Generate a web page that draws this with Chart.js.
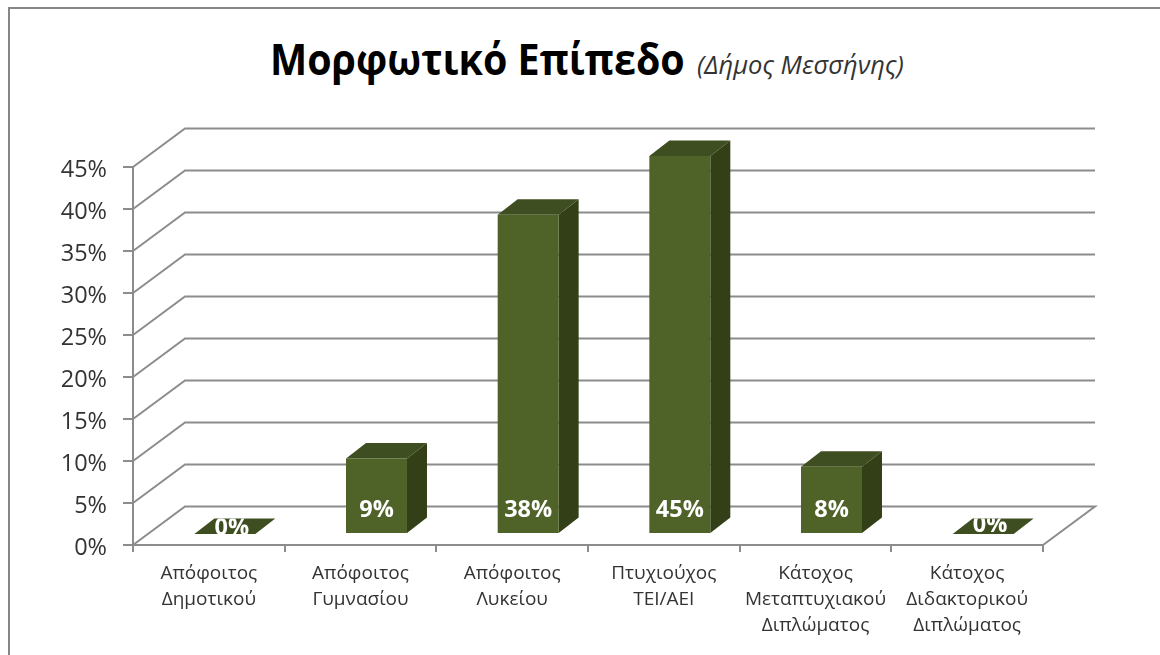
<!DOCTYPE html>
<html>
<head>
<meta charset="utf-8">
<script src="https://cdn.jsdelivr.net/npm/chart.js@4"></script>
<style>
html, body { margin: 0; padding: 0; background: #fff; overflow: hidden; }
#wrap { position: relative; width: 1160px; height: 655px; }
#frame { position: absolute; left: 8px; top: 7px; width: 1160px; height: 660px; border: 2px solid #868686; box-sizing: border-box; }
#title { position: absolute; left: 270px; top: 29px; white-space: nowrap; color: #000; font: bold 43px "Open Sans"; transform: scaleX(0.917); transform-origin: left top; }
#subtitle { position: absolute; left: 697px; top: 47px; white-space: nowrap; color: #333; font: italic 25.5px "Open Sans"; }
canvas { position: absolute; left: 0; top: 0; }
</style>
</head>
<body>
<div id="wrap">
<div id="frame"></div>
<div id="title">Μορφωτικό Επίπεδο</div>
<div id="subtitle">(Δήμος Μεσσήνης)</div>
<canvas id="chart" width="1160" height="655"></canvas>
</div>
<script>
var categories = [
    ["Απόφοιτος", "Δημοτικού"],
    ["Απόφοιτος", "Γυμνασίου"],
    ["Απόφοιτος", "Λυκείου"],
    ["Πτυχιούχος", "ΤΕΙ/ΑΕΙ"],
    ["Κάτοχος", "Μεταπτυχιακού", "Διπλώματος"],
    ["Κάτοχος", "Διδακτορικού", "Διπλώματος"]
];
var values = [0, 9, 38, 45, 8, 0];

var grid_color = "#8c8c8c";
var front_color = "#4f6228";
var top_color = "#3f4e20";
var side_color = "#323f17";

//Back wall and floor, the depth is fixed for the whole chart
var wall_dx = 52, wall_dy = -38.5;
//Bars stand in the middle of the floor
var bar_dx = 16, bar_dy = -11;
var cap_dx = 20, cap_dy = -15.5;

var box3d = {
    id: "box3d",
    afterLayout: function(chart){
        //Value labels sit a little under their tick marks
        chart.scales.y.getLabelItems(chart.chartArea).forEach(function(item){
            item.options.translation[1] += 3;
        });
    },
    beforeDatasetsDraw: function(chart){
        var ctx = chart.ctx;
        var y = chart.scales.y;
        var area = chart.chartArea;

        ctx.save();
        ctx.strokeStyle = grid_color;
        ctx.lineWidth = 2;
        y.ticks.forEach(function(tick){
            var py = y.getPixelForValue(tick.value);
            ctx.beginPath();
            ctx.moveTo(area.left, py);
            ctx.lineTo(area.left + wall_dx, py + wall_dy);
            ctx.lineTo(area.right + wall_dx, py + wall_dy);
            if(tick.value == 0){
                ctx.lineTo(area.right, py);
            }
            ctx.stroke();
        });

        //Top and side faces of each bar
        chart.getDatasetMeta(0).data.forEach(function(bar){
            var l = bar.x - bar.width / 2 + bar_dx;
            var r = bar.x + bar.width / 2 + bar_dx;
            var t = bar.y + bar_dy;
            var b = bar.base + bar_dy;

            ctx.fillStyle = side_color;
            ctx.beginPath();
            ctx.moveTo(r, t);
            ctx.lineTo(r + cap_dx, t + cap_dy);
            ctx.lineTo(r + cap_dx, b + cap_dy);
            ctx.lineTo(r, b);
            ctx.closePath();
            ctx.fill();

            ctx.fillStyle = top_color;
            ctx.beginPath();
            ctx.moveTo(l, t);
            ctx.lineTo(l + cap_dx, t + cap_dy);
            ctx.lineTo(r + cap_dx, t + cap_dy);
            ctx.lineTo(r, t);
            ctx.closePath();
            ctx.fill();
        });
        ctx.restore();

        //Front faces are the library's bars, moved onto the floor
        ctx.save();
        ctx.translate(bar_dx, bar_dy);
    },
    afterDatasetsDraw: function(chart){
        var ctx = chart.ctx;
        ctx.restore();

        chart.getDatasetMeta(0).data.forEach(function(bar, i){
            var x = bar.x + bar_dx;
            var base = bar.base + bar_dy;
            var label_y = base - 23;
            ctx.save();
            if(values[i] == 0){
                //The label of an empty bar only shows inside its flat cap
                ctx.beginPath();
                ctx.moveTo(x - bar.width / 2, base);
                ctx.lineTo(x - bar.width / 2 + cap_dx, base + cap_dy);
                ctx.lineTo(x + bar.width / 2 + cap_dx, base + cap_dy);
                ctx.lineTo(x + bar.width / 2, base);
                ctx.closePath();
                ctx.clip();
                x += 7;
                label_y = base - (i == 0 ? 6 : 9);
            }
            ctx.fillStyle = "#fff";
            ctx.font = "bold 23.5px 'Open Sans'";
            ctx.textAlign = "center";
            ctx.textBaseline = "middle";
            ctx.fillText(values[i] + "%", x, label_y);
            ctx.restore();
        });
    }
};

new Chart(document.getElementById("chart"), {
    type: "bar",
    data: {
        labels: categories,
        datasets: [{
            data: values,
            backgroundColor: front_color,
            borderWidth: 0,
            categoryPercentage: 1,
            barPercentage: 0.402,
            clip: false
        }]
    },
    options: {
        responsive: false,
        animation: false,
        layout: { padding: { top: 167, right: 117, left: 0, bottom: 0 } },
        plugins: {
            legend: { display: false },
            tooltip: { enabled: false }
        },
        scales: {
            x: {
                afterFit: function(scale){ scale.height = 110; },
                grid: {
                    drawOnChartArea: false,
                    color: grid_color,
                    lineWidth: 2,
                    tickLength: 7
                },
                border: { color: grid_color, width: 2 },
                ticks: {
                    color: "#333",
                    font: { family: "Open Sans", size: 19, lineHeight: 1.38 },
                    maxRotation: 0,
                    autoSkip: false,
                    padding: 8
                }
            },
            y: {
                min: 0,
                max: 45,
                afterFit: function(scale){ scale.width = 133; },
                grid: {
                    drawOnChartArea: false,
                    color: grid_color,
                    lineWidth: 2,
                    tickLength: 10
                },
                border: { color: grid_color, width: 2 },
                ticks: {
                    stepSize: 5,
                    color: "#333",
                    padding: 16,
                    font: { family: "Open Sans", size: 23.5 },
                    callback: function(v){ return v + "%"; }
                }
            }
        }
    },
    plugins: [box3d]
});
</script>
</body>
</html>
